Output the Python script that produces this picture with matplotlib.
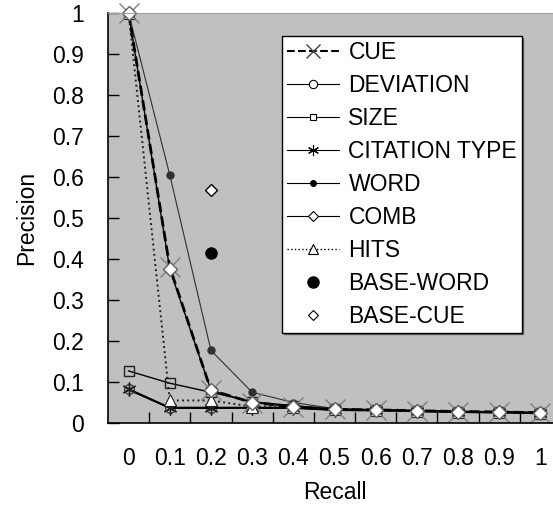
import matplotlib
matplotlib.use("Agg")
import matplotlib.pyplot as plt
from matplotlib.lines import Line2D
import numpy as np

plt.rcParams['font.family'] = ['Liberation Sans', 'DejaVu Sans']

# données
recall = ["0", "0.1", "0.2", "0.3", "0.4", "0.5", "0.6", "0.7", "0.8", "0.9", "1"]
cue = [1.0, 0.38, 0.08, 0.05, 0.04, 0.033, 0.032, 0.03, 0.028, 0.027, 0.025]
deviation = [0.082, 0.037, 0.037, 0.037, 0.037, 0.032, 0.031, 0.029, 0.027, 0.026, 0.024]
size = [0.127, 0.097, 0.075, 0.052, 0.042, 0.034, 0.032, 0.03, 0.028, 0.027, 0.025]
citation_type = [0.082, 0.037, 0.037, 0.037, 0.037, 0.032, 0.031, 0.029, 0.027, 0.026, 0.024]
word = [1.0, 0.605, 0.177, 0.075, 0.05, 0.035, 0.033, 0.03, 0.028, 0.027, 0.025]
comb = [1.0, 0.375, 0.08, 0.05, 0.04, 0.033, 0.032, 0.03, 0.028, 0.027, 0.025]
hits = [1.0, 0.055, 0.055, 0.04, 0.04, 0.033, 0.032, 0.03, 0.028, 0.027, 0.025]
base_word_recall = "0.2"
base_word = 0.415
base_cue_recall = "0.2"
base_cue = 0.568
yticks = ["0", "0.1", "0.2", "0.3", "0.4", "0.5", "0.6", "0.7", "0.8", "0.9", "1"]

x = np.arange(len(recall))
fs = 16.5
asterisk = (6, 2, 0)

fig = plt.figure(figsize=(5.53, 5.08), dpi=100)
ax = fig.add_axes([108 / 553, 85 / 508, 453 / 553, 410 / 508])
ax.set_facecolor('#c0c0c0')

# courbes
ax.plot(x, deviation, '-', color='black', lw=1.0, marker='o', ms=7,
        mfc='none', mec='#404040', mew=1.0)
ax.plot(x, citation_type, '-', color='black', lw=1.6, marker=asterisk, ms=10,
        mec='#202020', mew=1.0)
ax.plot(x, size, '-', color='black', lw=1.0, marker='s', ms=7,
        mfc='none', mec='#202020', mew=1.0)
ax.plot(x, word, '-', color='#303030', lw=0.8, marker='o', ms=5,
        mfc='#303030', mec='#303030', clip_on=False)
ax.plot(x, hits, ':', color='#202020', lw=1.4, marker='^', ms=9,
        mfc='white', mec='#202020', mew=0.8, clip_on=False)
ax.plot(x, cue, '--', color='black', lw=2.0, marker='x', ms=15,
        mec='#808080', mew=1.0, clip_on=False)
ax.plot(x, comb, '-', color='black', lw=1.0, marker='D', ms=7,
        mfc='white', mec='#606060', mew=1.0, clip_on=False)
ax.plot(recall.index(base_word_recall), base_word, 'o', color='black', ms=8)
ax.plot(recall.index(base_cue_recall), base_cue, 'D', mfc='white',
        mec='black', ms=6, mew=1.0)

ax.set_xlim(-0.5, len(recall) - 0.5)
ax.set_ylim(0, 1)
ax.set_xticks(x)
ax.set_xticklabels(recall)
ax.set_xticks(x[:-1] + 0.5, minor=True)
ax.tick_params(axis='x', which='major', length=0, pad=17, labelsize=fs)
ax.tick_params(axis='x', which='minor', direction='in', length=8, width=1)
ax.set_yticks(np.arange(0, 1.01, 0.1))
ax.set_yticklabels(yticks)
ax.tick_params(axis='y', direction='in', length=8, width=1, pad=17.5, labelsize=fs)

ax.spines['top'].set_color('#a0a0a0')
ax.spines['right'].set_visible(False)
ax.spines['left'].set_linewidth(1.2)
ax.spines['bottom'].set_linewidth(1.2)

ax.set_xlabel('Recall', fontsize=fs, labelpad=8)
ax.set_ylabel('Precision', fontsize=fs, labelpad=10)

handles = [
    Line2D([], [], ls='--', color='black', lw=1.5, marker='x', ms=10, mec='#404040'),
    Line2D([], [], ls='-', color='black', lw=0.8, marker='o', ms=6, mfc='white', mec='black', mew=0.8),
    Line2D([], [], ls='-', color='black', lw=0.8, marker='s', ms=5, mfc='white', mec='black', mew=0.8),
    Line2D([], [], ls='-', color='black', lw=0.8, marker=asterisk, ms=8, mec='black', mew=0.8),
    Line2D([], [], ls='-', color='black', lw=0.8, marker='o', ms=4, mfc='black', mec='black'),
    Line2D([], [], ls='-', color='black', lw=0.8, marker='D', ms=5, mfc='white', mec='black', mew=0.8),
    Line2D([], [], ls=':', color='black', lw=1.0, marker='^', ms=7, mfc='white', mec='black', mew=0.8),
    Line2D([], [], ls='none', marker='o', ms=8, color='black'),
    Line2D([], [], ls='none', marker='D', ms=5, mfc='white', mec='black', mew=0.8),
]
labels = ['CUE', 'DEVIATION', 'SIZE', 'CITATION TYPE', 'WORD', 'COMB', 'HITS',
          'BASE-WORD', 'BASE-CUE']
leg = ax.legend(handles, labels, loc='upper left', bbox_to_anchor=(0.384, 0.944),
                borderaxespad=0, fontsize=fs, handlelength=2.3, handletextpad=0.4,
                labelspacing=0.44, borderpad=0.2, fancybox=False, framealpha=1,
                edgecolor='black',
                shadow={'ox': 1.2, 'oy': -1.2, 'color': '#404040', 'alpha': 0.6})
leg.get_frame().set_linewidth(1.0)

fig.savefig('out.png', dpi=100)
